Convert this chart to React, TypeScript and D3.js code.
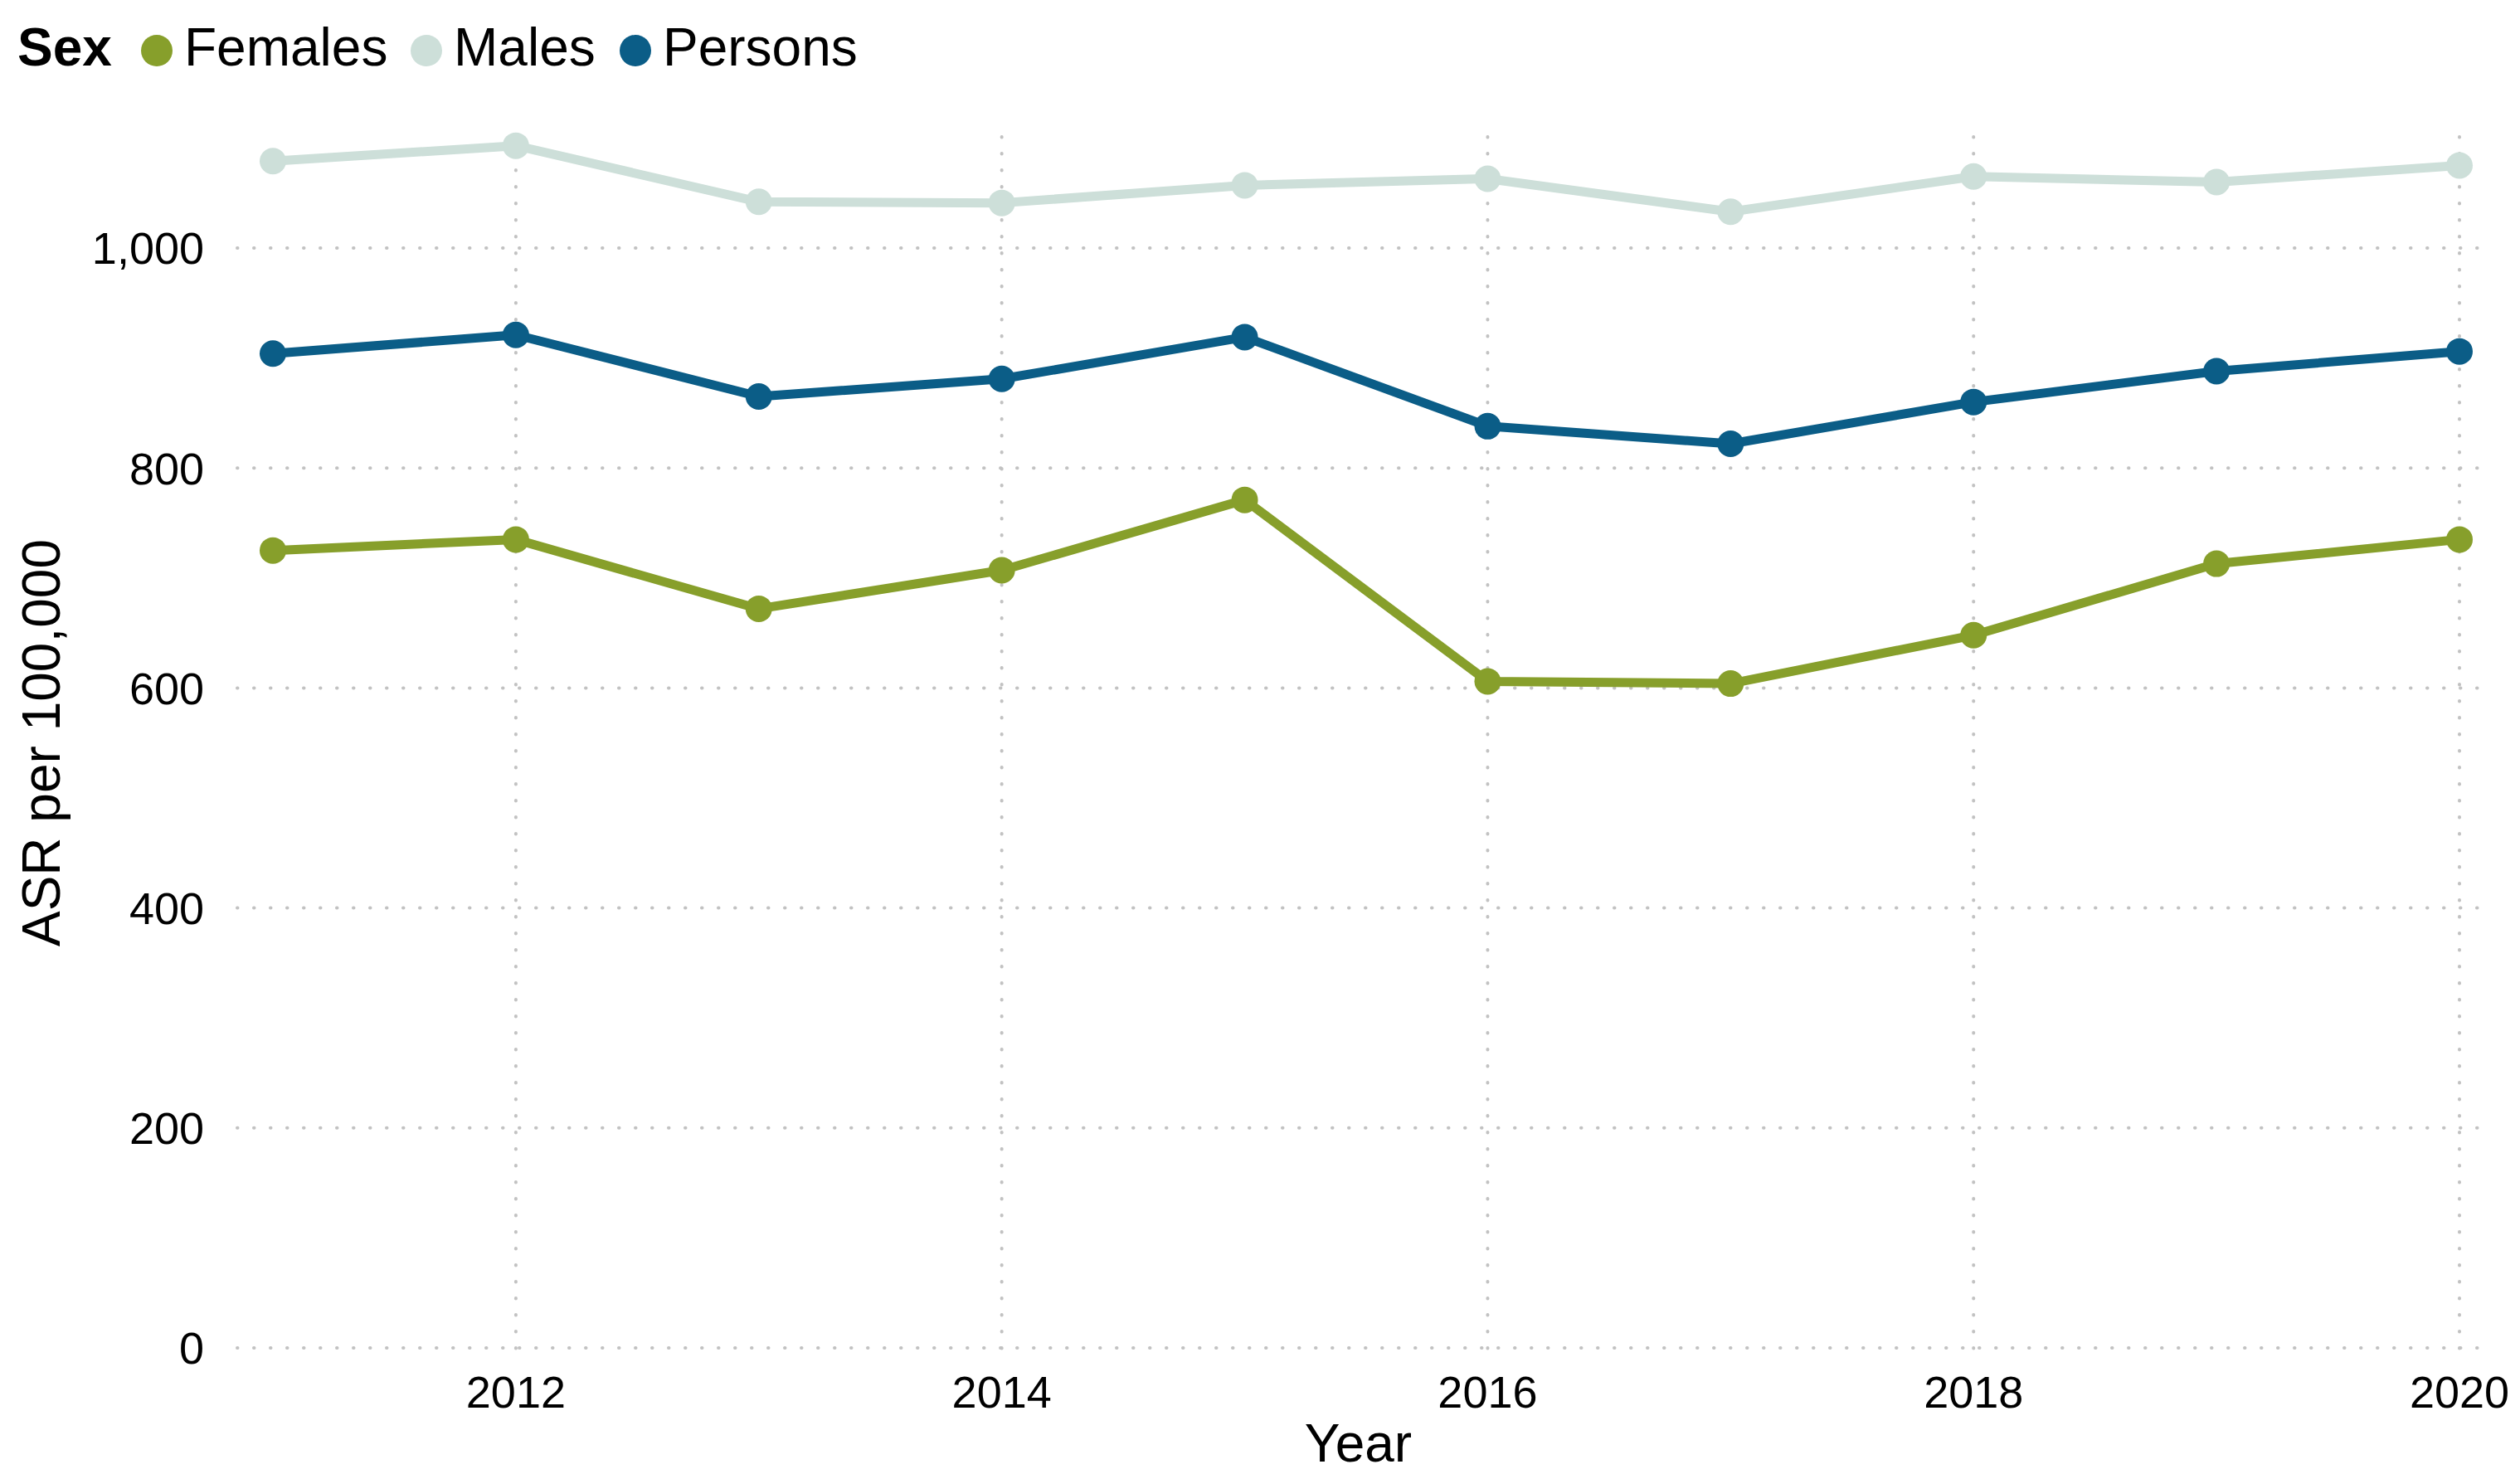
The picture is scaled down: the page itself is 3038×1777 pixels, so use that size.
import React from "react";
import * as d3 from "d3";

// DATA
const years = [2011, 2012, 2013, 2014, 2015, 2016, 2017, 2018, 2019, 2020];
const females = [725, 735, 672, 707, 771, 606, 604, 648, 713, 735];
const males = [1079, 1093, 1042, 1041, 1057, 1063, 1033, 1065, 1060, 1075];
const persons = [904, 921, 865, 881, 919, 838, 822, 860, 888, 906];

const seriesNames = ["Females", "Males", "Persons"];
const seriesValues = [females, males, persons];
const seriesColors = ["#879f2b", "#cddfd9", "#0b5d87"];

const xTicks = [2012, 2014, 2016, 2018, 2020];
const yTicks = [0, 200, 400, 600, 800, 1000];

const width = 3038;
const height = 1777;
const panel = { left: 286, right: 2989, top: 165, bottom: 1626 };
const font = "'Liberation Sans', Arial, sans-serif";

// legend layout: circle centres
const legendCircleX = [189, 514, 766];

const App = () => {
  const xScale = d3.scaleLinear().domain([2011, 2020]).range([329, 2965]);
  const yScale = d3.scaleLinear().domain([0, 1000]).range([1625, 299]);

  const lineGen = d3
    .line<number>()
    .x((_, i) => xScale(years[i]))
    .y(d => yScale(d));

  const yFmt = d3.format(",");

  return (
    <svg
      width={width}
      height={height}
      style={{ position: "absolute", left: 0, top: 0, background: "#fff" }}
      fontFamily={font}
    >
      {/* GRID */}
      <g stroke="#c2c2c2" strokeWidth={4} strokeLinecap="round" strokeDasharray="0.5 19.5">
        {yTicks.map(t => (
          <line key={"h" + t} x1={panel.left} x2={panel.right} y1={yScale(t)} y2={yScale(t)} />
        ))}
        {xTicks.map(t => (
          <line key={"v" + t} x1={xScale(t)} x2={xScale(t)} y1={panel.top} y2={panel.bottom} />
        ))}
      </g>

      {/* AXES */}
      <g fontSize={54} fill="#000">
        {yTicks.map(t => (
          <text key={"yl" + t} x={246} y={yScale(t)} dy="0.36em" textAnchor="end">
            {yFmt(t)}
          </text>
        ))}
        {xTicks.map(t => (
          <text key={"xl" + t} x={xScale(t)} y={1697} textAnchor="middle">
            {t}
          </text>
        ))}
      </g>
      <text x={(panel.left + panel.right) / 2} y={1762} fontSize={64} textAnchor="middle">
        Year
      </text>
      <text
        transform={`translate(72, ${(panel.top + panel.bottom) / 2}) rotate(-90)`}
        fontSize={64}
        textAnchor="middle"
      >
        ASR per 100,000
      </text>

      {/* LINES */}
      {seriesValues.map((vals, i) => (
        <path
          key={"l" + i}
          d={lineGen(vals) || ""}
          fill="none"
          stroke={seriesColors[i]}
          strokeWidth={11}
          strokeLinejoin="round"
        />
      ))}
      {/* POINTS */}
      {seriesValues.map((vals, i) => (
        <g key={"p" + i} fill={seriesColors[i]}>
          {vals.map((v, j) => (
            <circle key={j} cx={xScale(years[j])} cy={yScale(v)} r={16} />
          ))}
        </g>
      ))}

      {/* LEGEND */}
      <g fontSize={64}>
        <text x={21} y={79} fontWeight="bold">
          Sex
        </text>
        {seriesNames.map((name, i) => (
          <g key={name}>
            <circle cx={legendCircleX[i]} cy={61} r={19} fill={seriesColors[i]} />
            <text x={legendCircleX[i] + 33} y={79}>
              {name}
            </text>
          </g>
        ))}
      </g>
    </svg>
  );
};

export default App;
